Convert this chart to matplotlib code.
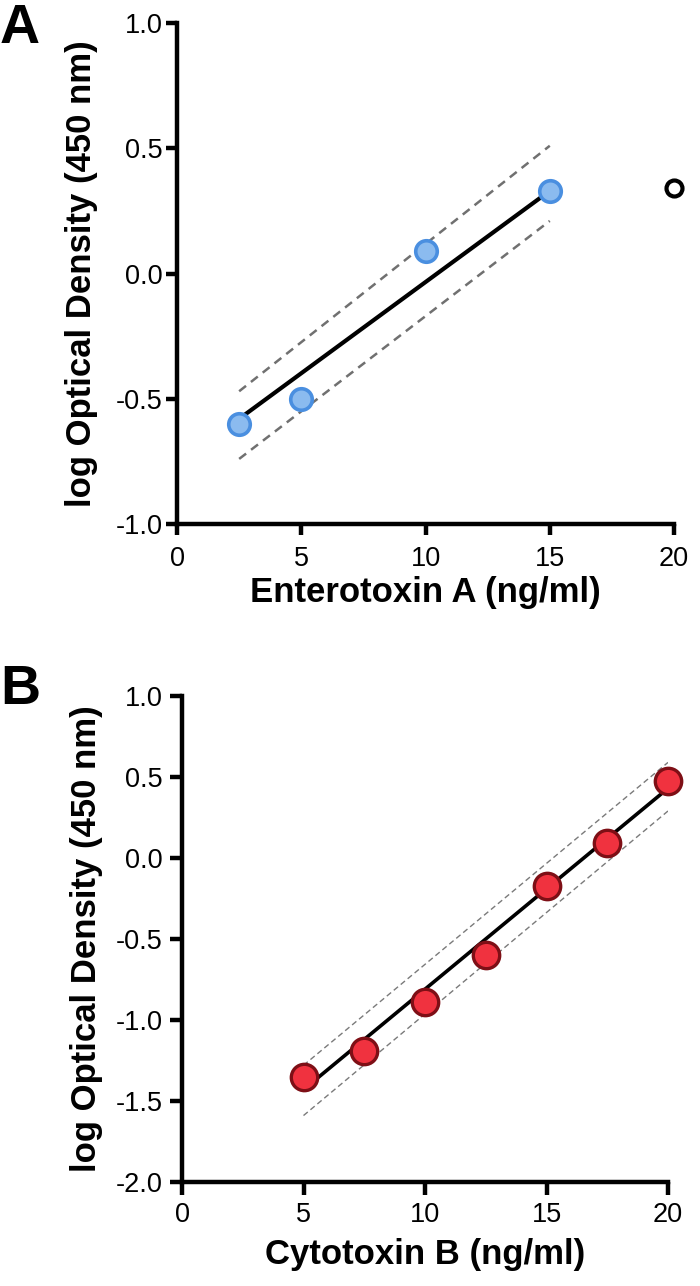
import matplotlib
matplotlib.use('Agg')
import matplotlib.pyplot as plt

plt.rcParams['font.family'] = ['Liberation Sans', 'DejaVu Sans']
plt.rcParams['axes.unicode_minus'] = False

# Panel A - Enterotoxin A standard curve
a_x = [2.5, 5, 10, 15]
a_y = [-0.60, -0.50, 0.09, 0.33]
a_out_x = [20]
a_out_y = [0.34]
a_fit_x = [2.5, 15]
a_fit_y = [-0.58, 0.33]
a_upper_y = [-0.47, 0.51]
a_lower_y = [-0.74, 0.21]

# Panel B - Cytotoxin B standard curve
b_x = [5, 7.5, 10, 12.5, 15, 17.5, 20]
b_y = [-1.35, -1.19, -0.89, -0.60, -0.175, 0.09, 0.475]
b_fit_x = [5, 20]
b_fit_y = [-1.43, 0.43]
b_upper_y = [-1.28, 0.59]
b_lower_y = [-1.59, 0.29]

x_ticks = [0, 5, 10, 15, 20]
a_yticks = [-1.0, -0.5, 0.0, 0.5, 1.0]
b_yticks = [-2.0, -1.5, -1.0, -0.5, 0.0, 0.5, 1.0]

fig = plt.figure(figsize=(7, 12.86), dpi=100)
ax1 = fig.add_axes([0.2529, 0.5925, 0.71, 0.3896])
ax2 = fig.add_axes([0.26, 0.0809, 0.6943, 0.3779])


def style_axes(ax, yticks, ylim, xpad, ypad, tlen, ylabpad):
    for s in ['top', 'right']:
        ax.spines[s].set_visible(False)
    for s in ['left', 'bottom']:
        ax.spines[s].set_linewidth(3.2)
    ax.set_xlim(0, 20)
    ax.set_ylim(*ylim)
    ax.set_xticks(x_ticks)
    ax.set_xticklabels([str(t) for t in x_ticks])
    ax.set_yticks(yticks)
    ax.set_yticklabels([f'{t:.1f}' for t in yticks])
    ax.tick_params(axis='both', length=tlen, width=3.2, labelsize=19.5)
    ax.tick_params(axis='x', pad=xpad)
    ax.tick_params(axis='y', pad=ypad)
    ax.set_ylabel('log Optical Density (450 nm)', fontsize=25, fontweight='bold',
                  labelpad=ylabpad)


# Panel A
ax1.plot(a_fit_x, a_upper_y, ls=(0, (3.5, 2.5)), color='#707070', lw=1.8)
ax1.plot(a_fit_x, a_lower_y, ls=(0, (3.5, 2.5)), color='#707070', lw=1.8)
ax1.plot(a_fit_x, a_fit_y, color='black', lw=3)
ax1.plot(a_x, a_y, 'o', ms=15.5, mfc='#8bbbef', mec='#4a8fe0', mew=2.6, zorder=5)
ax1.plot(a_out_x, a_out_y, 'o', ms=11.5, mfc='white', mec='black', mew=3,
         zorder=5, clip_on=False)
style_axes(ax1, a_yticks, (-1.0, 1.0), xpad=8, ypad=2.5, tlen=8, ylabpad=12.5)
ax1.set_xlabel('Enterotoxin A (ng/ml)', fontsize=25, fontweight='bold', labelpad=3)

# Panel B
ax2.plot(b_fit_x, b_upper_y, ls=(0, (4, 2.5)), color='#7a7a7a', lw=1.0)
ax2.plot(b_fit_x, b_lower_y, ls=(0, (4, 2.5)), color='#7a7a7a', lw=1.0)
ax2.plot(b_fit_x, b_fit_y, color='black', lw=2.6)
ax2.plot(b_x, b_y, 'o', ms=19, mfc='#f0323f', mec='#7e0f16', mew=2.4,
         zorder=5, clip_on=False)
style_axes(ax2, b_yticks, (-2.0, 1.0), xpad=5.5, ypad=5, tlen=9, ylabpad=9)
ax2.set_xlabel('Cytotoxin B (ng/ml)', fontsize=25, fontweight='bold', labelpad=7)

fig.text(0.0, 0.998, 'A', fontsize=40, fontweight='bold', va='top', ha='left')
fig.text(0.0, 0.484, 'B', fontsize=40, fontweight='bold', va='top', ha='left')

plt.savefig('out.png', dpi=100)
